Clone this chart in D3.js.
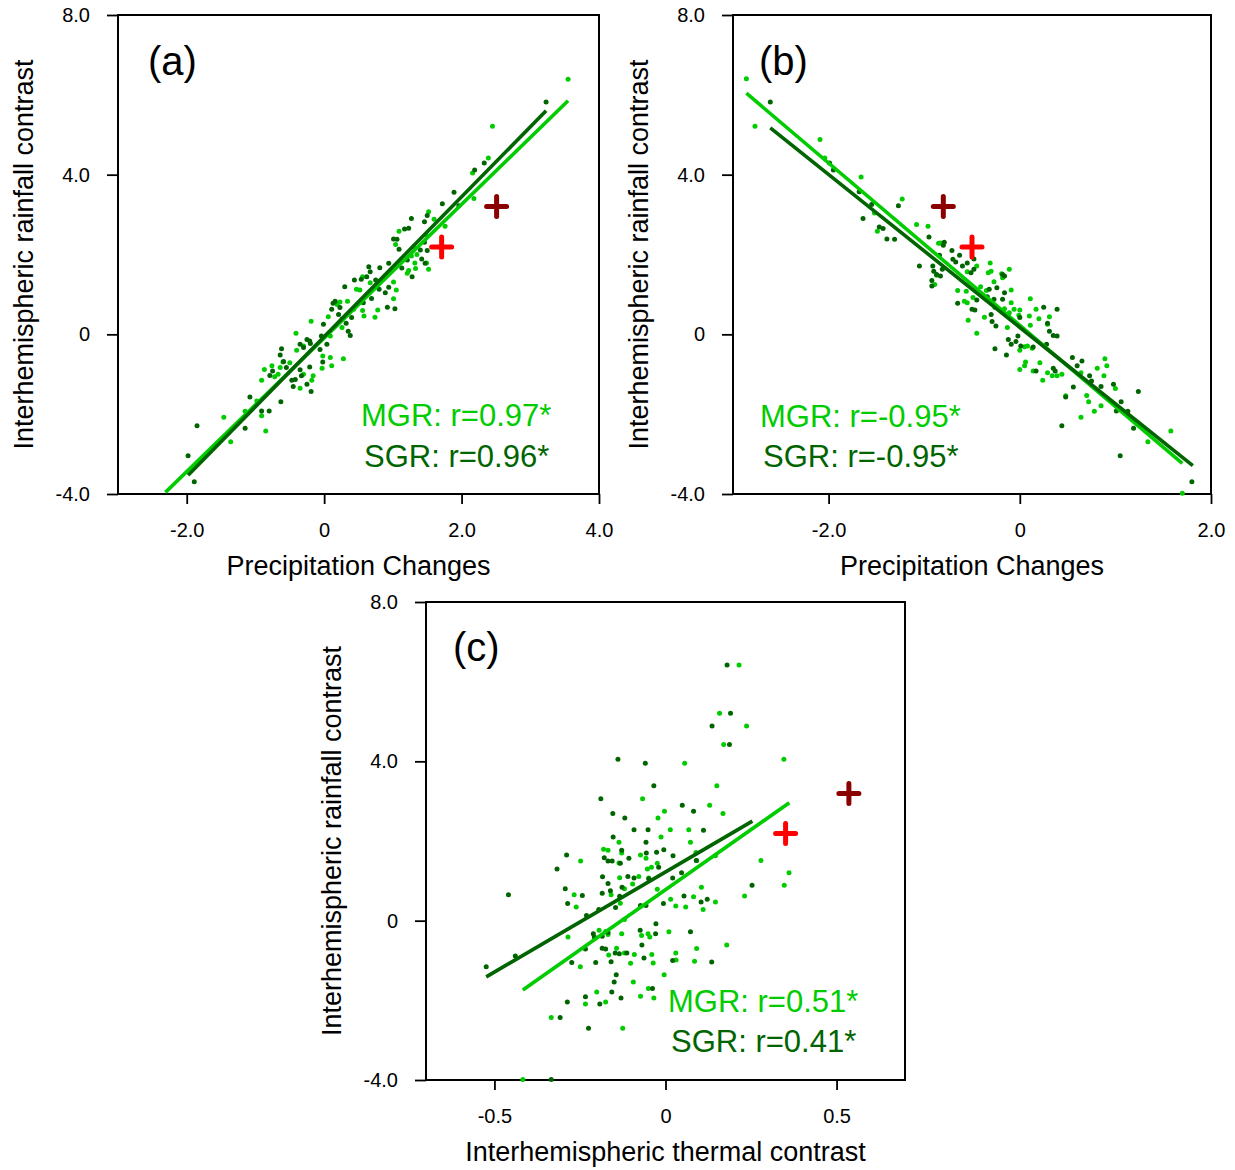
<!DOCTYPE html>
<html>
<head>
<meta charset="utf-8">
<script src="https://cdn.jsdelivr.net/npm/d3@7"></script>
<style>
  html, body { margin: 0; padding: 0; background: #fff; }
  svg { display: block; font-family: "Liberation Sans", Arial, Helvetica, sans-serif; }
</style>
</head>
<body>
<svg id="chart" width="1235" height="1170"></svg>
<script>
// ---- data ----------------------------------------------------------------
const panelLabels = ["(a)", "(b)", "(c)"];
const xTitles = ["Precipitation Changes", "Precipitation Changes", "Interhemispheric thermal contrast"];
const yTitle = "Interhemispheric rainfall contrast";

const yTicks = [-4, 0, 4, 8];
const xTicksA = [-2, 0, 2, 4];
const xTicksB = [-2, 0, 2];
const xTicksC = [-0.5, 0, 0.5];

const statsA = ["MGR: r=0.97*", "SGR: r=0.96*"];
const statsB = ["MGR: r=-0.95*", "SGR: r=-0.95*"];
const statsC = ["MGR: r=0.51*", "SGR: r=0.41*"];

// ensemble members, [x, y]
const mgrA = [
  [3.55,6.39],[2.45,5.21],[2.39,4.42],[2.16,4.04],[2.18,3.40],
  [-0.98,-1.67],[-1.15,-1.93],[-1.46,-2.08],[-1.36,-2.69],[-0.91,-2.04],[-0.85,-2.42],
  [1.52,3.07],[1.60,2.88],[1.09,2.58],[1.04,2.25],[1.49,2.48],[1.76,2.71],[1.30,2.19],[1.35,2.00],
  [1.27,1.96],[1.32,1.79],[1.23,1.60],[1.21,1.53],[1.33,1.65],[1.52,1.63],[1.49,1.79],[1.01,1.31],
  [1.05,1.11],[1.01,0.89],[0.56,1.44],[0.67,1.29],[0.52,1.11],[0.47,1.13],[0.23,0.81],[0.19,0.75],
  [0.34,0.83],[0.58,0.46],[0.56,0.60],[0.78,0.61],[0.74,0.43],[0.43,0.63],[0.06,0.44],[-0.19,0.33],
  [0.26,0.17],[0.28,-0.61],[0.09,-0.04],[0.09,-0.58],[0.11,-0.79],[-0.02,-0.54],[-0.41,0.03],
  [-0.40,-0.40],[-0.30,-0.29],[-0.50,-0.71],[-0.64,-0.83],[-0.60,-0.69],[-0.87,-0.88],[-0.76,-0.79],
  [-0.91,-1.15],[-0.72,-1.06],[-0.67,-1.00],[-0.30,-1.00],[-0.16,-1.04],[-0.03,-0.85],[-0.35,-1.35],
  [-0.18,-1.15]
];
const sgrA = [
  [3.23,5.82],[2.33,4.29],[2.19,4.12],[1.89,3.56],[1.96,3.22],
  [-1.08,-1.57],[-1.15,-2.35],[-1.85,-2.29],[-1.98,-3.04],[-1.89,-3.69],[-0.91,-1.92],[-0.80,-1.92],[-0.63,-1.69],
  [1.72,3.27],[1.27,2.90],[1.46,2.82],[1.50,2.98],[1.17,2.64],[1.23,2.66],[1.01,2.39],[1.06,2.38],
  [1.46,2.31],[1.50,2.10],[1.40,2.11],[1.42,1.89],[1.09,2.13],[1.21,1.86],[1.13,1.66],[1.28,1.44],
  [1.47,1.78],[0.94,1.78],[0.81,1.67],[0.65,1.69],[0.67,1.57],[0.62,1.44],[0.44,1.36],[0.54,1.38],
  [0.75,1.36],[0.80,1.13],[0.94,1.18],[0.89,1.04],[0.30,1.19],[0.69,0.90],[0.57,0.79],[0.92,0.68],
  [1.03,0.64],[0.13,0.78],[0.11,0.63],[0.16,0.83],[0.23,0.67],[0.21,0.50],[0.26,0.38],[0.40,0.42],
  [0.32,0.28],[0.38,-0.03],[0.35,0.08],[-0.01,0.25],[-0.04,-0.04],[0.04,-0.25],[-0.06,-0.38],
  [-0.02,-0.69],[-0.25,-0.13],[-0.21,-0.17],[-0.20,-0.23],[-0.35,-0.25],[-0.30,-0.33],[-0.62,-0.36],
  [-0.64,-0.52],[-0.59,-0.68],[-0.21,-0.82],[-0.35,-0.89],[-0.33,-1.04],[-0.42,-1.13],[-0.47,-1.15],
  [-0.25,-1.25],[-0.45,-1.31],[-0.19,-1.43],[-0.75,-0.92],[-0.79,-1.03],[-0.55,-0.83]
];
const mgrB = [
  [-2.86,6.40],[-2.77,5.21],[-2.09,4.88],[-2.04,4.42],[-1.66,3.94],[-1.23,3.39],[-1.52,3.04],[-1.49,2.58],
  [0.85,-1.79],[0.88,-1.04],[0.89,-0.61],[0.91,-0.79],[1.00,-1.36],[1.34,-2.69],[1.58,-2.42],[1.70,-3.98],
  [-1.08,2.75],[-0.96,2.71],[-0.85,2.28],[-0.83,2.29],[-0.87,1.48],[-0.89,1.25],[-0.45,1.71],[-0.55,1.57],
  [-0.31,1.79],[-0.33,1.54],[-0.30,1.58],[-0.11,1.63],[-0.19,1.52],[-0.18,1.42],[-0.27,1.32],[-0.41,1.19],
  [-0.35,1.10],[-0.65,1.10],[-0.56,1.08],[-0.58,0.83],[-0.55,0.79],[-0.49,0.92],[-0.54,0.35],[-0.45,0.03],
  [-0.37,0.43],[-0.09,1.11],[-0.09,0.79],[-0.16,0.64],[-0.11,0.54],[-0.26,0.67],[-0.06,0.63],[0.00,0.61],
  [-0.01,0.48],[0.11,0.89],[0.17,0.63],[0.20,0.39],[0.10,0.46],[0.11,0.23],[-0.13,0.17],[0.31,0.44],
  [0.29,0.25],[0.05,-0.31],[0.08,-0.29],[0.00,-0.40],[0.13,-0.35],[0.06,-0.69],[0.05,-0.79],[0.00,-0.88],
  [0.21,-0.71],[0.29,-0.96],[0.34,-1.04],[0.39,-1.04],[0.44,-1.00],[0.24,-1.15],[0.14,-0.92],[0.48,-1.54],
  [0.64,-0.96],[0.81,-0.85],[0.70,-1.53],[0.72,-1.69],[0.78,-1.93],[0.64,-2.08]
];
const sgrB = [
  [-2.61,5.82],[-1.99,4.29],[-1.95,4.12],[-1.68,3.57],[-1.55,3.25],[-1.27,3.22],[-1.64,2.90],[-1.47,2.69],
  [-1.43,2.65],[-1.39,2.39],[-1.31,2.38],[1.06,-1.69],[1.01,-1.92],[1.13,-1.93],[1.24,-1.43],[1.19,-2.35],
  [1.05,-3.04],[1.80,-3.69],[0.85,-1.31],[0.98,-1.25],[0.44,-2.29],
  [-0.95,2.44],[-0.79,2.31],[-0.80,2.23],[-0.84,1.98],[-0.71,2.10],[-0.63,1.98],[-0.67,1.81],[-0.70,1.88],
  [-0.60,1.71],[-0.55,1.79],[-0.51,1.54],[-0.48,1.63],[-0.48,1.89],[-1.05,1.71],[-0.91,1.71],[-0.90,1.58],
  [-0.92,1.35],[-0.92,1.21],[-0.87,1.50],[-0.83,1.46],[-0.81,1.63],[-0.65,0.78],[-0.50,0.63],[-0.47,0.61],
  [-0.45,0.86],[-0.32,1.13],[-0.24,1.17],[-0.16,1.04],[-0.18,0.88],[-0.27,0.88],[-0.34,0.94],[-0.30,0.50],
  [-0.29,0.32],[-0.25,0.21],[-0.18,1.50],[-0.16,1.46],[-0.26,-0.36],[-0.14,-0.52],[-0.12,-0.13],
  [-0.09,-0.25],[-0.04,-0.18],[-0.02,-0.04],[0.00,0.42],[0.01,-0.29],[0.14,-0.32],[0.25,0.68],[0.39,0.63],
  [0.29,0.28],[0.31,0.08],[0.35,-0.03],[0.39,-0.04],[0.28,-0.25],[0.17,-0.92],[0.35,-0.85],[0.37,-0.92],
  [0.55,-0.58],[0.65,-0.67],[0.60,-0.79],[0.56,-1.32],[0.48,-1.57],[0.73,-1.04],[0.75,-1.17]
];
const mgrC = [
  [0.215,6.42],[0.158,5.21],[0.237,4.89],[0.170,4.42],[0.346,4.05],[0.056,3.95],[0.150,3.39],[-0.067,3.06],
  [0.129,2.90],[0.168,2.69],[-0.003,2.75],[-0.022,2.58],[0.014,2.28],[0.068,2.28],[-0.013,2.10],[0.073,1.97],
  [-0.136,1.97],[-0.181,1.79],[-0.168,1.77],[-0.128,1.70],[-0.073,1.65],[-0.057,1.57],[-0.248,1.50],
  [-0.136,1.45],[-0.024,1.44],[-0.041,1.34],[-0.053,1.30],[0.089,1.71],[0.146,1.63],[0.091,1.51],
  [0.279,1.51],[0.361,1.20],[0.347,0.89],[-0.134,1.08],[-0.078,1.11],[-0.049,1.07],[-0.096,0.92],
  [-0.120,0.80],[-0.024,0.79],[0.105,0.84],[-0.267,0.65],[-0.261,0.34],[-0.159,0.65],[-0.132,0.44],
  [0.015,0.54],[0.030,0.37],[0.059,0.34],[0.082,0.60],[0.110,0.28],[0.146,0.47],[0.231,0.62],[-0.073,0.36],
  [-0.120,0.03],[-0.175,-0.27],[-0.285,-0.41],[-0.194,-0.24],[-0.168,-0.35],[-0.128,-0.33],[-0.070,-0.37],
  [-0.051,-0.33],[-0.046,-0.41],[0.010,-0.28],[0.091,-0.70],[0.179,-0.61],[-0.249,-1.16],[-0.166,-0.86],
  [-0.143,-0.69],[-0.120,-0.81],[-0.091,-0.85],[-0.102,-1.07],[-0.040,-0.85],[-0.036,-1.06],[0.030,-0.81],
  [0.031,-0.99],[0.085,-1.02],[-0.004,-1.36],[-0.094,-1.54],[-0.201,-1.79],[-0.234,-2.09],[-0.175,-2.04],
  [-0.073,-1.90],[-0.050,-1.70],[-0.034,-1.94],[-0.334,-2.43],[-0.125,-2.70],[-0.417,-3.99]
];
const sgrC = [
  [0.180,6.42],[0.190,5.21],[0.136,4.89],[0.187,4.42],[-0.139,4.05],[-0.059,3.95],[-0.034,3.39],[-0.189,3.06],
  [0.049,2.90],[0.082,2.75],[-0.154,2.69],[-0.119,2.58],[-0.092,2.28],[-0.051,2.28],[0.111,2.27],[-0.153,2.10],
  [-0.057,1.97],[-0.128,1.77],[-0.005,1.78],[-0.026,1.72],[-0.056,1.70],[0.022,1.63],[-0.289,1.65],
  [-0.179,1.58],[-0.168,1.50],[-0.156,1.50],[-0.132,1.44],[-0.107,1.57],[-0.317,1.30],[-0.020,1.34],
  [0.090,1.51],[-0.184,1.10],[-0.110,1.11],[-0.092,1.07],[-0.049,1.05],[0.021,1.07],[0.047,1.20],
  [-0.168,0.93],[-0.127,0.84],[-0.293,0.80],[-0.161,0.75],[-0.185,0.69],[-0.134,0.61],[-0.243,0.63],
  [-0.459,0.65],[-0.286,0.43],[-0.146,0.33],[-0.073,0.38],[-0.057,0.38],[-0.006,0.43],[0.054,0.62],
  [0.104,0.47],[0.122,0.54],[0.253,0.89],[-0.231,0.13],[-0.195,0.28],[-0.028,-0.08],[-0.029,-0.33],
  [-0.074,-0.24],[0.073,-0.28],[-0.211,-0.33],[-0.208,-0.41],[-0.185,-0.39],[-0.168,-0.30],[-0.185,-0.69],
  [-0.175,-0.71],[-0.234,-0.71],[-0.147,-0.81],[-0.135,-0.83],[-0.113,-0.81],[-0.069,-0.61],[-0.063,-0.94],
  [-0.439,-0.89],[-0.524,-1.16],[-0.274,-1.05],[-0.204,-1.05],[-0.159,-1.03],[0.021,-1.00],[0.135,-1.04],
  [-0.144,-1.36],[-0.150,-1.54],[-0.157,-1.79],[-0.130,-1.94],[-0.038,-1.70],[-0.234,-1.91],[-0.192,-2.09],
  [-0.287,-2.04],[-0.308,-2.43],[-0.225,-2.70],[-0.334,-3.99]
];

// regression line end points, [[x0, y0], [x1, y1]]
const fitMgrA = [[-2.31,-3.96],[3.55,5.85]];
const fitSgrA = [[-1.98,-3.53],[3.23,5.60]];
const fitMgrB = [[-2.86,6.04],[1.70,-3.23]];
const fitSgrB = [[-2.61,5.17],[1.81,-3.29]];
const fitMgrC = [[-0.417,-1.74],[0.362,2.96]];
const fitSgrC = [[-0.524,-1.41],[0.254,2.50]];

// observational estimates, [x, y]: first red, second dark red
const obsA = [[1.71,2.19],[2.51,3.20]];
const obsB = [[-0.50,2.19],[-0.80,3.20]];
const obsC = [[0.351,2.19],[0.536,3.19]];

// ---- styling -------------------------------------------------------------
const C_MGR = "#00cc00";
const C_SGR = "#006400";
const C_OBS = ["#ff0000", "#8b0000"];
const yDomain = [-4, 8];

const panels = [
  { label: panelLabels[0], xTitle: xTitles[0], xDomain: [-3, 4], xTicks: xTicksA,
    box: { l: 118, r: 599, t: 15, b: 494 }, mgr: mgrA, sgr: sgrA, fitM: fitMgrA, fitS: fitSgrA,
    obs: obsA, stats: statsA, statPos: [[361, 426], [364, 467]], labelPos: [148, 75] },
  { label: panelLabels[1], xTitle: xTitles[1], xDomain: [-3, 2], xTicks: xTicksB,
    box: { l: 733, r: 1211, t: 15, b: 494 }, mgr: mgrB, sgr: sgrB, fitM: fitMgrB, fitS: fitSgrB,
    obs: obsB, stats: statsB, statPos: [[760, 427], [763, 467]], labelPos: [759, 75] },
  { label: panelLabels[2], xTitle: xTitles[2], xDomain: [-0.7, 0.7], xTicks: xTicksC,
    box: { l: 426, r: 905, t: 602, b: 1080 }, mgr: mgrC, sgr: sgrC, fitM: fitMgrC, fitS: fitSgrC,
    obs: obsC, stats: statsC, statPos: [[668, 1012], [671, 1052]], labelPos: [453, 661] }
];

const fmt = d => d === 0 ? "0" : d.toFixed(1);

const svg = d3.select("#chart");

panels.forEach(p => {
  const x = d3.scaleLinear().domain(p.xDomain).range([p.box.l, p.box.r]);
  const y = d3.scaleLinear().domain(yDomain).range([p.box.b, p.box.t]);
  const g = svg.append("g");

  // axes (ticks on left and bottom only)
  const ax = g.append("g").attr("transform", `translate(0,${p.box.b})`)
    .call(d3.axisBottom(x).tickValues(p.xTicks).tickFormat(fmt).tickSize(10).tickPadding(19));
  const ay = g.append("g").attr("transform", `translate(${p.box.l},0)`)
    .call(d3.axisLeft(y).tickValues(yTicks).tickFormat(fmt).tickSize(11).tickPadding(17));
  [ax, ay].forEach(a => {
    a.select(".domain").remove();
    a.selectAll(".tick line").attr("stroke", "#000").attr("stroke-width", 1.8);
    a.selectAll(".tick text").attr("fill", "#000")
      .style("font-family", '"Liberation Sans", Arial, sans-serif').style("font-size", "20px");
  });

  // frame
  g.append("rect")
    .attr("x", p.box.l).attr("y", p.box.t)
    .attr("width", p.box.r - p.box.l).attr("height", p.box.b - p.box.t)
    .attr("fill", "none").attr("stroke", "#000").attr("stroke-width", 2);

  // axis titles
  g.append("text")
    .attr("x", (p.box.l + p.box.r) / 2).attr("y", p.box.b + 81)
    .attr("text-anchor", "middle").style("font-size", "27px").text(p.xTitle);
  g.append("text")
    .attr("transform", `translate(${p.box.l - 85},${(p.box.t + p.box.b) / 2}) rotate(-90)`)
    .attr("text-anchor", "middle").style("font-size", "27px").text(yTitle);

  // scatter
  const dots = g.append("g");
  dots.selectAll("circle.mgr").data(p.mgr).join("circle").attr("class", "mgr")
    .attr("cx", d => x(d[0])).attr("cy", d => y(d[1])).attr("r", 2.5).attr("fill", C_MGR);
  dots.selectAll("circle.sgr").data(p.sgr).join("circle").attr("class", "sgr")
    .attr("cx", d => x(d[0])).attr("cy", d => y(d[1])).attr("r", 2.5).attr("fill", C_SGR);

  // regression lines
  const line = d3.line().x(d => x(d[0])).y(d => y(d[1]));
  g.append("path").datum(p.fitM).attr("d", line)
    .attr("stroke", C_MGR).attr("stroke-width", 3.6).attr("fill", "none");
  g.append("path").datum(p.fitS).attr("d", line)
    .attr("stroke", C_SGR).attr("stroke-width", 3.6).attr("fill", "none");

  // observation crosses
  p.obs.forEach((o, i) => {
    const cx = x(o[0]), cy = y(o[1]), h = 10;
    g.append("path")
      .attr("d", `M${cx - h},${cy}H${cx + h}M${cx},${cy - h}V${cy + h}`)
      .attr("stroke", C_OBS[i]).attr("stroke-width", 5).attr("stroke-linecap", "round");
  });

  // correlation text
  p.stats.forEach((s, i) => {
    g.append("text").attr("x", p.statPos[i][0]).attr("y", p.statPos[i][1])
      .attr("fill", i === 0 ? C_MGR : C_SGR).style("font-size", "31px").text(s);
  });

  // panel letter
  g.append("text").attr("x", p.labelPos[0]).attr("y", p.labelPos[1])
    .style("font-size", "40px").text(p.label);
});
</script>
</body>
</html>
